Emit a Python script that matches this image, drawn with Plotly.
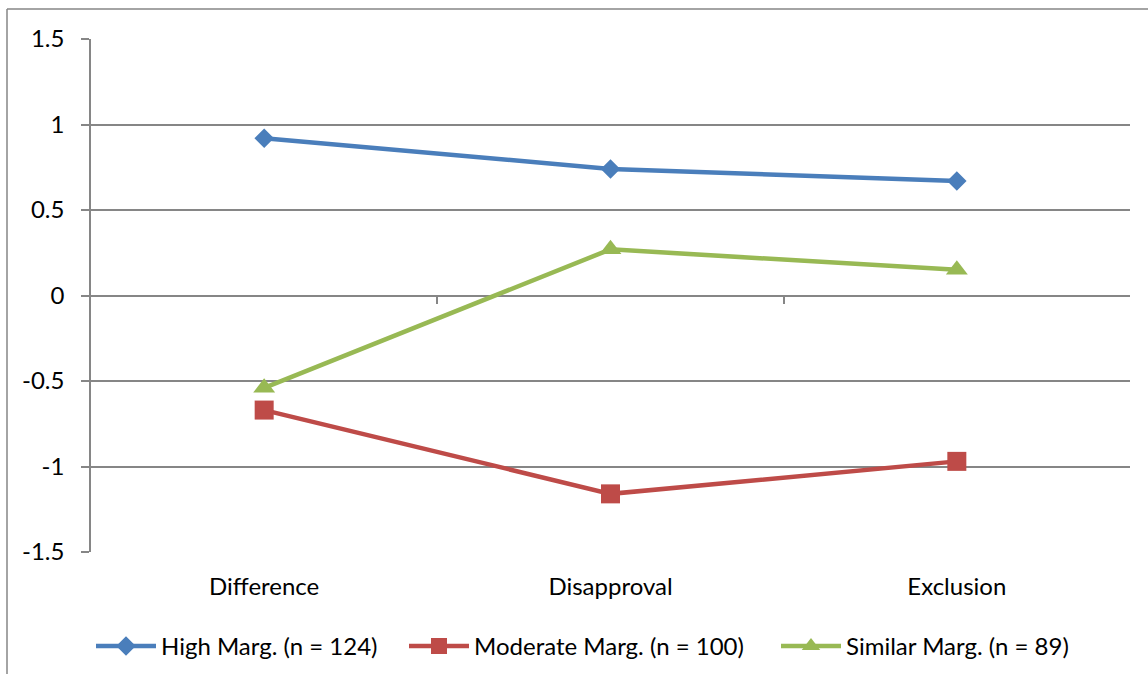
import plotly.graph_objects as go

# Category labels and group means
categories = ["Difference", "Disapproval", "Exclusion"]
high_marg = [0.92, 0.74, 0.67]
moderate_marg = [-0.67, -1.16, -0.97]
similar_marg = [-0.54, 0.27, 0.15]

series_names = ["High Marg. (n = 124)", "Moderate Marg. (n = 100)", "Similar Marg. (n = 89)"]

y_ticks = [-1.5, -1, -0.5, 0, 0.5, 1, 1.5]
y_tick_text = ["-1.5", "-1", "-0.5", "0", "0.5", "1", "1.5"]

FONT = "Lato"
FS = 24
GRID = "#868686"

fig = go.Figure()

fig.add_trace(go.Scatter(
    x=categories, y=high_marg, name=series_names[0], mode="lines+markers",
    line=dict(color="#4A7EBB", width=4.5),
    marker=dict(symbol="diamond", size=15, color="#4A7EBB"),
    legendwidth=238,
))
fig.add_trace(go.Scatter(
    x=categories, y=moderate_marg, name=series_names[1], mode="lines+markers",
    line=dict(color="#BE4B48", width=4.5),
    marker=dict(symbol="square", size=19, color="#BE4B48"),
    legendwidth=297,
))
fig.add_trace(go.Scatter(
    x=categories, y=similar_marg, name=series_names[2], mode="lines+markers",
    line=dict(color="#98B954", width=4.5),
    marker=dict(symbol="triangle-up", size=19, color="#98B954"),
    legendwidth=260,
))

# helper axis carrying the category boundary ticks on the zero line
fig.add_trace(go.Scatter(
    x=[0.5, 3.5], y=[0, 0], xaxis="x2", mode="lines",
    line=dict(width=0), hoverinfo="skip", showlegend=False,
))

fig.update_layout(
    width=1148, height=674,
    margin=dict(l=91, r=18, t=39, b=122, autoexpand=False),
    paper_bgcolor="white", plot_bgcolor="white",
    font=dict(family=FONT, size=FS, color="black"),
    showlegend=True,
    legend=dict(
        orientation="h", x=0.0, xanchor="left", y=-0.14, yanchor="top",
        font=dict(family=FONT, size=FS, color="black"),
        tracegroupgap=0, itemwidth=60,
    ),
    xaxis=dict(
        type="category", range=[-0.5, 2.5],
        showgrid=False, zeroline=False, showline=False,
        ticks="", ticklabelstandoff=18,
    ),
    xaxis2=dict(
        overlaying="x", anchor="free", position=0.5, side="bottom",
        range=[0.5, 3.5], tickvals=[1.5, 2.5],
        showticklabels=False, showgrid=False, zeroline=False, showline=False,
        ticks="outside", ticklen=7, tickwidth=1.5, tickcolor=GRID,
    ),
    yaxis=dict(
        range=[-1.5, 1.5], tickvals=y_ticks, ticktext=y_tick_text,
        showgrid=True, gridcolor=GRID, gridwidth=1.5,
        zeroline=False,
        showline=True, linecolor=GRID, linewidth=1.5,
        ticks="outside", ticklen=8, tickwidth=1.5, tickcolor=GRID,
        ticklabelstandoff=12,
    ),
)

# outer chart-area frame (top and left edges)
top_y = 1 + 30 / 513
left_x = -84 / 1039
fig.add_shape(type="line", xref="paper", yref="paper",
              x0=left_x, x1=1.1, y0=top_y, y1=top_y,
              line=dict(color=GRID, width=1.5))
fig.add_shape(type="line", xref="paper", yref="paper",
              x0=left_x, x1=left_x, y0=top_y, y1=-0.3,
              line=dict(color=GRID, width=1.5))

fig.write_html("out.html")
